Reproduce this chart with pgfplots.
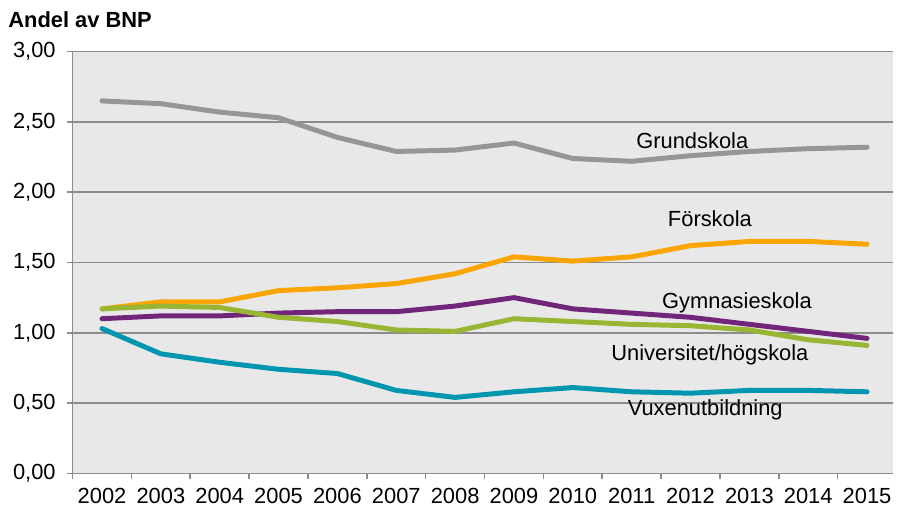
\documentclass[border=0pt]{standalone}
\usepackage{pgfplots}
\pgfplotsset{compat=1.18}
\usepackage{fontspec}
\setmainfont{Liberation Sans}
\definecolor{bg}{RGB}{232,232,232}
\definecolor{gridc}{RGB}{140,140,140}
\definecolor{cgrund}{RGB}{150,150,150}
\definecolor{cfor}{RGB}{250,165,0}
\definecolor{cgym}{RGB}{114,38,122}
\definecolor{cuni}{RGB}{152,181,52}
\definecolor{cvux}{RGB}{0,150,176}
\begin{document}
\begin{tikzpicture}
\begin{axis}[
  scale only axis,
  width=412.5pt, height=212pt,
  xmin=-0.5, xmax=13.44,
  ymin=0, ymax=3,
  ytick={0,0.5,...,3},
  xtick={0,...,13},
  xticklabels={2002,2003,2004,2005,2006,2007,2008,2009,2010,2011,2012,2013,2014,2015},
  minor xtick={-0.5,0.5,...,12.5},
  major x tick style={draw=none},
  tick align=outside,
  tick style={gridc, line width=0.8pt},
  major tick length=3pt, minor tick length=3pt,
  axis x line*=bottom, axis y line*=left,
  axis line style={gridc, line width=0.8pt, -},
  ymajorgrids, grid style={gridc, line width=0.8pt},
  axis background/.style={fill=bg},
  /pgf/number format/.cd, fixed, fixed zerofill, precision=2, use comma, assume math mode=true,
  /pgfplots/.cd,
  tick label style={font=\fontsize{11}{12}\selectfont},
  yticklabel style={xshift=-2pt},
  xticklabel style={yshift=-1pt},
  every axis plot/.append style={line width=2.5pt, line join=round, line cap=round},
  clip=false,
]
\addplot[cgrund] coordinates {(0,2.65)(1,2.63)(2,2.57)(3,2.53)(4,2.39)(5,2.29)(6,2.30)(7,2.35)(8,2.24)(9,2.22)(10,2.26)(11,2.29)(12,2.31)(13,2.32)};
\addplot[cfor] coordinates {(0,1.17)(1,1.22)(2,1.22)(3,1.30)(4,1.32)(5,1.35)(6,1.42)(7,1.54)(8,1.51)(9,1.54)(10,1.62)(11,1.65)(12,1.65)(13,1.63)};
\addplot[cgym] coordinates {(0,1.10)(1,1.12)(2,1.12)(3,1.14)(4,1.15)(5,1.15)(6,1.19)(7,1.25)(8,1.17)(9,1.14)(10,1.11)(11,1.06)(12,1.01)(13,0.96)};
\addplot[cuni] coordinates {(0,1.17)(1,1.19)(2,1.18)(3,1.11)(4,1.08)(5,1.02)(6,1.01)(7,1.10)(8,1.08)(9,1.06)(10,1.05)(11,1.02)(12,0.95)(13,0.91)};
\addplot[cvux] coordinates {(0,1.03)(1,0.85)(2,0.79)(3,0.74)(4,0.71)(5,0.59)(6,0.54)(7,0.58)(8,0.61)(9,0.58)(10,0.57)(11,0.59)(12,0.59)(13,0.58)};
\node[font=\fontsize{11}{12}\selectfont] at (axis cs:10.03,2.37) {Grundskola};
\node[font=\fontsize{11}{12}\selectfont] at (axis cs:10.33,1.81) {Förskola};
\node[font=\fontsize{11}{12}\selectfont] at (axis cs:10.79,1.21) {Gymnasieskola};
\node[font=\fontsize{11}{12}\selectfont] at (axis cs:10.33,0.84) {Universitet/högskola};
\node[font=\fontsize{11}{12}\selectfont] at (axis cs:10.25,0.45) {Vuxenutbildning};
\node[anchor=west, font=\bfseries\fontsize{11}{12}\selectfont, inner sep=0pt] at ([xshift=-32.5pt, yshift=16pt]rel axis cs:0,1) {Andel av BNP};
\coordinate (tl) at (rel axis cs:0,1);
\coordinate (br) at (rel axis cs:1,0);
\end{axis}
\path ([xshift=-36.5pt, yshift=26pt]tl) ([yshift=-17.5pt]br);
\end{tikzpicture}
\end{document}
